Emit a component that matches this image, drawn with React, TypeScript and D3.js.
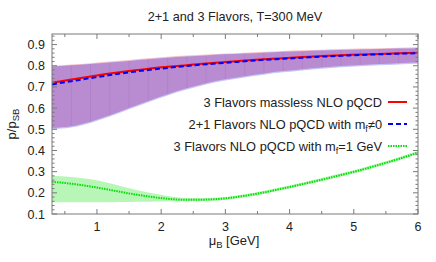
import { useRef, useEffect } from "react";
import * as d3 from "d3";

// chemical potential samples (GeV)
const MU = [0.3, 0.6, 0.9, 1.2, 1.5, 1.8, 2.1, 2.4, 2.7, 3.0, 3.3, 3.6, 3.9, 4.2, 4.5, 4.8, 5.1, 5.4, 5.7, 6.0];

// 3 flavors massless NLO pQCD
const MASSLESS = [0.72, 0.735, 0.749, 0.763, 0.775, 0.786, 0.795, 0.803, 0.811, 0.818, 0.825, 0.831, 0.836, 0.841, 0.846, 0.85, 0.853, 0.856, 0.859, 0.861];
const MASSLESS_LO = [0.506, 0.514, 0.536, 0.566, 0.601, 0.634, 0.666, 0.694, 0.718, 0.736, 0.751, 0.764, 0.775, 0.784, 0.792, 0.799, 0.804, 0.808, 0.812, 0.815];
const MASSLESS_HI = [0.8, 0.806, 0.812, 0.82, 0.827, 0.835, 0.842, 0.848, 0.853, 0.858, 0.862, 0.866, 0.87, 0.873, 0.876, 0.879, 0.881, 0.883, 0.885, 0.887];

// 2+1 flavors NLO pQCD with m_f != 0
const MASSIVE = [0.712, 0.727, 0.742, 0.756, 0.769, 0.78, 0.79, 0.799, 0.807, 0.814, 0.821, 0.828, 0.833, 0.838, 0.843, 0.847, 0.851, 0.854, 0.857, 0.859];
const MASSIVE_LO = [0.5, 0.508, 0.53, 0.56, 0.595, 0.628, 0.66, 0.688, 0.712, 0.73, 0.745, 0.758, 0.769, 0.778, 0.786, 0.793, 0.798, 0.802, 0.806, 0.809];
const MASSIVE_HI = [0.796, 0.802, 0.808, 0.816, 0.823, 0.831, 0.838, 0.844, 0.849, 0.854, 0.858, 0.862, 0.866, 0.869, 0.872, 0.875, 0.877, 0.879, 0.881, 0.883];

// 3 flavors NLO pQCD with m_f = 1 GeV
const HEAVY = [0.252, 0.243, 0.23, 0.214, 0.197, 0.183, 0.172, 0.167, 0.168, 0.174, 0.186, 0.202, 0.221, 0.241, 0.262, 0.284, 0.307, 0.333, 0.36, 0.39];
const HEAVY_LO = [0.155, 0.155, 0.155, 0.156, 0.157, 0.158, 0.159, 0.16, 0.161, 0.166, 0.179, 0.195, 0.214, 0.234, 0.255, 0.277, 0.3, 0.326, 0.353, 0.383];
const HEAVY_HI = [0.281, 0.275, 0.264, 0.245, 0.222, 0.201, 0.185, 0.176, 0.175, 0.18, 0.193, 0.21, 0.229, 0.249, 0.27, 0.292, 0.315, 0.341, 0.368, 0.397];

const X_TICKS = [1, 2, 3, 4, 5, 6];
const Y_TICKS = [0.1, 0.2, 0.3, 0.4, 0.5, 0.6, 0.7, 0.8, 0.9];

const LEGEND = [
  { text: "3 Flavors massless NLO pQCD", color: "#ff0000", dash: "none" },
  { text: "2+1 Flavors NLO pQCD with m", sub: "f", tail: "≠0", color: "#0000ff", dash: "5,3" },
  { text: "3 Flavors NLO pQCD with m", sub: "f", tail: "=1 GeV", color: "#00e000", dash: "1.5,1" },
];

type Band = { x: number; lo: number; hi: number };
type Pt = { x: number; y: number };

export default function App() {
  const ref = useRef<SVGSVGElement>(null);
  const width = 436;
  const height = 262;
  const margin = { left: 52, right: 18, top: 34, bottom: 48 };

  useEffect(() => {
    if (!ref.current) return;
    const svg = d3.select(ref.current);
    svg.selectAll("*").remove();

    const x = d3.scaleLinear().domain([0.3, 6]).range([margin.left, width - margin.right]);
    const y = d3.scaleLinear().domain([0.1, 0.95]).range([height - margin.bottom, margin.top]);
    const font = "'Liberation Sans', Arial, sans-serif";
    const x0 = margin.left, x1 = width - margin.right;
    const y0 = height - margin.bottom, y1 = margin.top;

    const area = d3
      .area<Band>()
      .x((d) => x(d.x))
      .y0((d) => y(d.lo))
      .y1((d) => y(d.hi))
      .curve(d3.curveMonotoneX);
    const line = d3
      .line<Pt>()
      .x((d) => x(d.x))
      .y((d) => y(d.y))
      .curve(d3.curveMonotoneX);

    const band = (lo: number[], hi: number[]) => MU.map((m, i) => ({ x: m, lo: lo[i], hi: hi[i] }));
    const pts = (v: number[]) => MU.map((m, i) => ({ x: m, y: v[i] }));

    const plot = svg.append("g");

    // error bands: pink (massless), light blue (massive), purple where they overlap
    plot.append("path").datum(band(MASSLESS_LO, MASSLESS_HI)).attr("d", area).attr("fill", "#f6c2c8");
    plot.append("path").datum(band(MASSIVE_LO, MASSIVE_HI)).attr("d", area).attr("fill", "#c4c6fa");
    const overlap = band(MASSLESS_LO, MASSIVE_HI);
    plot.append("path").datum(overlap).attr("d", area).attr("fill", "#b98bd0");

    // faint seams between filled segments
    plot
      .append("g")
      .selectAll("line")
      .data(overlap.slice(1, -1))
      .join("line")
      .attr("x1", (d) => x(d.x))
      .attr("x2", (d) => x(d.x))
      .attr("y1", (d) => y(d.lo))
      .attr("y2", (d) => y(d.hi))
      .attr("stroke", "#8a5aa5")
      .attr("stroke-opacity", 0.2)
      .attr("stroke-width", 0.8);

    plot.append("path").datum(band(HEAVY_LO, HEAVY_HI)).attr("d", area).attr("fill", "#b8f6b8");

    plot
      .append("path")
      .datum(pts(MASSLESS))
      .attr("d", line)
      .attr("fill", "none")
      .attr("stroke", "#ff0000")
      .attr("stroke-width", 2);
    plot
      .append("path")
      .datum(pts(MASSIVE))
      .attr("d", line)
      .attr("fill", "none")
      .attr("stroke", "#0000ff")
      .attr("stroke-width", 2)
      .attr("stroke-dasharray", "5,3");
    plot
      .append("path")
      .datum(pts(HEAVY))
      .attr("d", line)
      .attr("fill", "none")
      .attr("stroke", "#00e000")
      .attr("stroke-width", 2)
      .attr("stroke-dasharray", "1.5,1");

    // frame
    svg
      .append("rect")
      .attr("x", x0)
      .attr("y", y1)
      .attr("width", x1 - x0)
      .attr("height", y0 - y1)
      .attr("fill", "none")
      .attr("stroke", "#7a7a7a")
      .attr("stroke-width", 1);

    // ticks, mirrored on all sides, pointing inward
    const ticks = svg.append("g").attr("stroke", "#7a7a7a").attr("stroke-width", 1);
    const xMinor = d3.range(0.5, 6.01, 0.5);
    xMinor.forEach((v) => {
      const major = Math.abs(v - Math.round(v)) < 1e-6;
      const len = major ? 5 : 3;
      ticks.append("line").attr("x1", x(v)).attr("x2", x(v)).attr("y1", y0).attr("y2", y0 - len);
      ticks.append("line").attr("x1", x(v)).attr("x2", x(v)).attr("y1", y1).attr("y2", y1 + len);
    });
    const yMinor = d3.range(0.1, 0.951, 0.02);
    yMinor.forEach((v) => {
      const major = Math.abs(v * 10 - Math.round(v * 10)) < 1e-6;
      const len = major ? 5 : 2.5;
      ticks.append("line").attr("x1", x0).attr("x2", x0 + len).attr("y1", y(v)).attr("y2", y(v));
      ticks.append("line").attr("x1", x1).attr("x2", x1 - len).attr("y1", y(v)).attr("y2", y(v));
    });

    const txt = svg.append("g").attr("font-family", font).attr("fill", "#222");

    X_TICKS.forEach((v) => {
      txt
        .append("text")
        .attr("x", x(v))
        .attr("y", y0 + 17)
        .attr("text-anchor", "middle")
        .attr("font-size", 12.5)
        .text(v);
    });
    Y_TICKS.forEach((v) => {
      txt
        .append("text")
        .attr("x", x0 - 7)
        .attr("y", y(v) + 4.5)
        .attr("text-anchor", "end")
        .attr("font-size", 12.5)
        .text(v.toFixed(1));
    });

    // title
    txt
      .append("text")
      .attr("x", 235)
      .attr("y", 21)
      .attr("text-anchor", "middle")
      .attr("font-size", 12.7)
      .text("2+1 and 3 Flavors, T=300 MeV");

    // x label
    const xl = txt
      .append("text")
      .attr("x", 234)
      .attr("y", 245)
      .attr("text-anchor", "middle")
      .attr("font-size", 13);
    xl.append("tspan").text("μ");
    xl.append("tspan").attr("dy", 3).attr("font-size", 9.5).text("B");
    xl.append("tspan").attr("dy", -3).text(" [GeV]");

    // y label
    const yl = txt
      .append("text")
      .attr("transform", `translate(16, 124) rotate(-90)`)
      .attr("text-anchor", "middle")
      .attr("font-size", 13);
    yl.append("tspan").text("p/p");
    yl.append("tspan").attr("dy", 3).attr("font-size", 9.5).text("SB");

    // legend
    LEGEND.forEach((item, i) => {
      const ly = 102 + i * 22;
      const t = txt
        .append("text")
        .attr("x", 382)
        .attr("y", ly + 4.5)
        .attr("text-anchor", "end")
        .attr("font-size", 12.8);
      t.append("tspan").text(item.text);
      if (item.sub) {
        t.append("tspan").attr("dy", 3).attr("font-size", 9).text(item.sub);
        t.append("tspan").attr("dy", -3).text(item.tail);
      }
      svg
        .append("line")
        .attr("x1", 388)
        .attr("x2", 407)
        .attr("y1", ly)
        .attr("y2", ly)
        .attr("stroke", item.color)
        .attr("stroke-width", 2)
        .attr("stroke-dasharray", item.dash);
    });
  }, []);

  return (
    <svg
      ref={ref}
      width={width}
      height={height}
      style={{ position: "absolute", left: 0, top: 0, background: "#fff" }}
    />
  );
}
